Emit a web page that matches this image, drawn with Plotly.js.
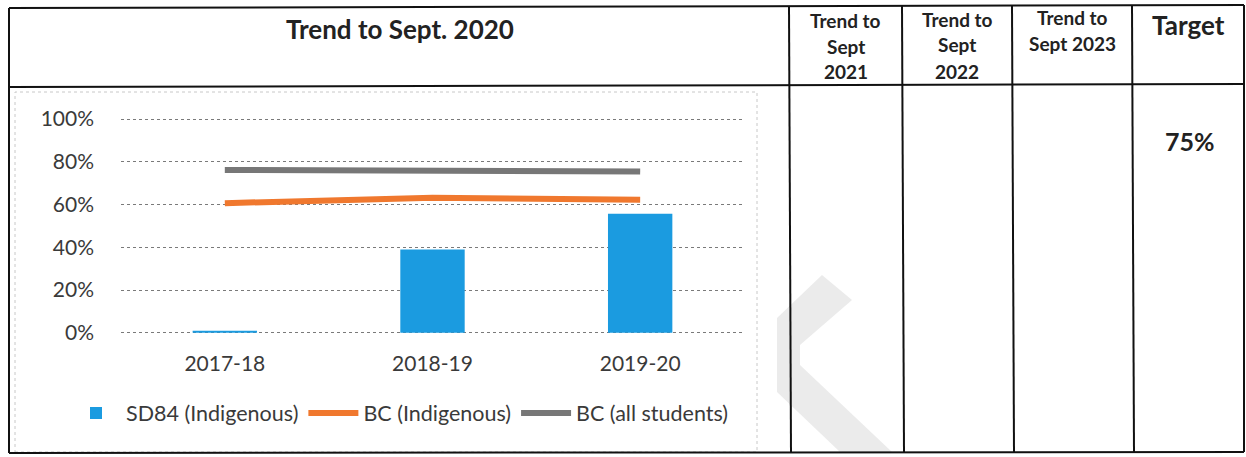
<!DOCTYPE html>
<html>
<head>
<meta charset="utf-8">
<script src="https://cdn.plot.ly/plotly-3.0.1.min.js"></script>
<style>html,body{margin:0;padding:0;background:#fff;}#chart{width:1246px;height:457px;}</style>
</head>
<body>
<div id="chart"></div>
<script>
// ---- data ----
const categories = ["2017-18", "2018-19", "2019-20"];
const sd84Indigenous = [0.01, 0.39, 0.557];
const bcIndigenous = [0.607, 0.632, 0.623];
const bcAllStudents = [0.762, 0.76, 0.755];
const yTickVals = [0, 0.2, 0.4, 0.6, 0.8, 1.0];
const yTickText = ["0%", "20%", "40%", "60%", "80%", "100%"];
const seriesNames = ["SD84 (Indigenous)", "BC (Indigenous)", "BC (all students)"];
const headerMain = "Trend to Sept. 2020";
const headerCols = [["Trend to", "Sept", "2021"], ["Trend to", "Sept", "2022"], ["Trend to", "Sept 2023"]];
const targetLabel = "Target";
const targetValue = "75%";

// ---- layout helpers (pixel -> paper) ----
const W = 1246, H = 457;
const px = x => x / W;
const py = y => 1 - y / H;
const FONT = "Lato, 'Open Sans', sans-serif";

const traces = [
  {type: "bar", x: categories, y: sd84Indigenous, name: seriesNames[0], width: 0.31,
   marker: {color: "#1b9be0"}, hoverinfo: "skip"},
  {type: "scatter", mode: "lines", x: categories, y: bcIndigenous, name: seriesNames[1],
   line: {color: "#f0782e", width: 6}, hoverinfo: "skip"},
  {type: "scatter", mode: "lines", x: categories, y: bcAllStudents, name: seriesNames[2],
   line: {color: "#777777", width: 6}, hoverinfo: "skip"}
];

const lineStyle = {color: "#111", width: 2};
const L = (x0, y0, x1, y1) => ({type: "line", xref: "paper", yref: "paper",
  x0: px(x0), y0: py(y0), x1: px(x1), y1: py(y1), line: lineStyle});
const shapes = [
  // chart inner frame
  {type: "rect", xref: "paper", yref: "paper", x0: px(15), x1: px(757), y0: py(452), y1: py(92),
   line: {color: "#c8c8c8", width: 1, dash: "dot"}, layer: "below"},
  // table outer border and rules
  L(9, 8, 1244, 5), L(9, 87, 1244, 84), L(9, 453, 1244, 452),
  L(9, 8, 9, 453), L(1244, 5, 1244, 452),
  L(789, 7, 791, 453), L(902, 6, 904, 453), L(1012, 6, 1014, 453), L(1132, 6, 1134, 453),
  // faint scanned stamp
  {type: "path", xref: "paper", yref: "paper",
   path: `M ${px(777)} ${py(318)} L ${px(822)} ${py(275)} L ${px(852)} ${py(300)} L ${px(800)} ${py(345)} L ${px(800)} ${py(365)} L ${px(892)} ${py(452)} L ${px(840)} ${py(452)} L ${px(777)} ${py(392)} Z`,
   fillcolor: "rgba(190,190,190,0.3)", line: {width: 0}, layer: "below"}
];

const ann = (text, x, y, size) => ({text: "<b>" + text + "</b>", x: px(x), y: py(y),
  xref: "paper", yref: "paper", xanchor: "center", yanchor: "middle", showarrow: false,
  font: {family: FONT, size: size, color: "#222"}});
const annotations = [
  ann(headerMain, 400, 29, 26),
  ann(targetLabel, 1188, 25, 26),
  ann(targetValue, 1190, 141, 25)
];
const colCenters = [846, 957, 1072];
const lineYs = [[20, 46, 71], [19, 45, 71], [18, 44]];
headerCols.forEach((lines, i) => {
  lines.forEach((t, j) => annotations.push(ann(t, colCenters[i], lineYs[i][j], 19)));
});

const layout = {
  width: W, height: H,
  margin: {l: 0, r: 0, t: 0, b: 0},
  paper_bgcolor: "#fff", plot_bgcolor: "rgba(0,0,0,0)",
  font: {family: FONT, color: "#3a3a3a"},
  showlegend: true,
  legend: {orientation: "h", x: px(400), xanchor: "center", y: py(413), yanchor: "middle",
    font: {family: FONT, size: 21.5, color: "#3a3a3a"}, itemwidth: 50, tracegroupgap: 0,
    bgcolor: "rgba(0,0,0,0)"},
  xaxis: {domain: [px(121), px(744)], range: [-0.5, 2.5], type: "category",
    showgrid: false, zeroline: false, showline: false, ticks: "",
    tickfont: {family: FONT, size: 21, color: "#3a3a3a"}, ticklabelstandoff: 14, fixedrange: true},
  yaxis: {domain: [py(335), py(117)], range: [-0.01, 1.01], tickvals: yTickVals, ticktext: yTickText,
    showgrid: true, gridcolor: "#7a7a7a", griddash: "dot", gridwidth: 1, zeroline: false,
    showline: false, ticks: "", tickfont: {family: FONT, size: 21, color: "#3a3a3a"},
    ticklabelstandoff: 26, fixedrange: true},
  bargap: 0.69,
  shapes: shapes,
  annotations: annotations
};

Plotly.newPlot("chart", traces, layout, {displayModeBar: false, staticPlot: true});
</script>
</body>
</html>
